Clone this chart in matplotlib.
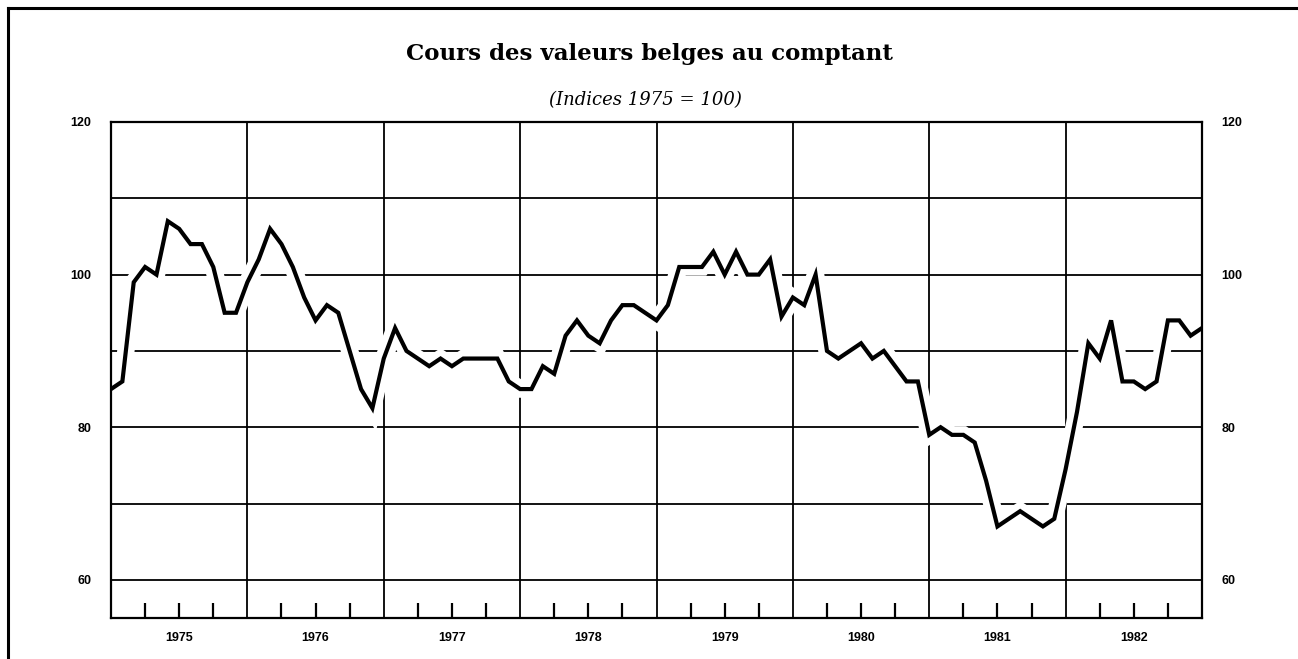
import matplotlib
matplotlib.use("Agg")
import matplotlib.pyplot as plt
import matplotlib.patheffects as pe
from matplotlib.lines import Line2D
import numpy as np

# Monthly index of Belgian spot-market share prices, Jan 1975 .. Jan 1983 (1975 = 100)
years = [1975, 1976, 1977, 1978, 1979, 1980, 1981, 1982]
index_values = [
    85, 86, 99, 101, 100, 107, 106, 104, 104, 101, 95, 95,      # 1975
    99, 102, 106, 104, 101, 97, 94, 96, 95, 90, 85, 82.5,       # 1976
    89, 93, 90, 89, 88, 89, 88, 89, 89, 89, 89, 86,             # 1977
    85, 85, 88, 87, 92, 94, 92, 91, 94, 96, 96, 95,             # 1978
    94, 96, 101, 101, 101, 103, 100, 103, 100, 100, 102, 94.5,  # 1979
    97, 96, 100, 90, 89, 90, 91, 89, 90, 88, 86, 86,            # 1980
    79, 80, 79, 79, 78, 73, 67, 68, 69, 68, 67, 68,             # 1981
    74.5, 82, 91, 89, 94, 86, 86, 85, 86, 94, 94, 92,           # 1982
    93,                                                         # Jan 1983
]
y_tick_values = [60, 80, 100, 120]
grid_levels = [60, 70, 80, 90, 100, 110]

title = "Cours des valeurs belges au comptant"
subtitle = "(Indices 1975 = 100)"

W, H = 1298, 659
fig = plt.figure(figsize=(W / 100, H / 100), dpi=100)
fig.patch.set_facecolor("white")

left_px, right_px, top_px, bottom_px = 111, 1202, 122, 618
ax = fig.add_axes([left_px / W, 1 - bottom_px / H,
                   (right_px - left_px) / W, (bottom_px - top_px) / H])

t = years[0] + np.arange(len(index_values)) / 12.0
ax.set_xlim(years[0], years[-1] + 1)
ax.set_ylim(55, 120)

grid_kw = dict(color="black", lw=1.3, zorder=1)
for lvl in grid_levels:
    ax.axhline(lvl, **grid_kw)
for yr in years[1:]:
    ax.axvline(yr, **grid_kw)

# quarter marks rising from the bottom edge
quarters = [yr + q / 4 for yr in years for q in (1, 2, 3)]
ax.vlines(quarters, 55, 57, color="black", lw=1.6, zorder=1)

# index curve, with a white margin that interrupts the grid around it
ax.plot(t, index_values, color="black", lw=3.0, solid_joinstyle="miter",
        zorder=3,
        path_effects=[pe.Stroke(linewidth=12.5, foreground="white"),
                      pe.Normal()])

for s in ax.spines.values():
    s.set_linewidth(1.6)
    s.set_zorder(5)

ax.set_yticks(y_tick_values)
ax.set_yticklabels([str(v) for v in y_tick_values])
ax.tick_params(axis="y", length=0, pad=14, labelsize=9,
               labelleft=True, labelright=True)
ax.set_xticks([yr + 0.5 for yr in years])
ax.set_xticklabels([str(yr) for yr in years])
ax.tick_params(axis="x", length=0, pad=10, labelsize=9)
for lab in ax.get_xticklabels() + ax.get_yticklabels():
    lab.set_family("Liberation Sans")
    lab.set_weight("bold")

fig.text(0.5, 1 - 54 / H, title, ha="center", va="center",
         family="DejaVu Serif", weight="bold", fontsize=16.5)
fig.text(0.497, 1 - 100 / H, subtitle, ha="center", va="center",
         family="DejaVu Serif", style="italic", fontsize=13)

# page frame: rule along the top and down the left side
fig.add_artist(Line2D([8 / W, 1], [1 - 8 / H, 1 - 8 / H],
                      transform=fig.transFigure, color="black", lw=2.2))
fig.add_artist(Line2D([8 / W, 8 / W], [1 - 8 / H, 0],
                      transform=fig.transFigure, color="black", lw=2.2))

fig.savefig("out.png", dpi=100, facecolor="white")
